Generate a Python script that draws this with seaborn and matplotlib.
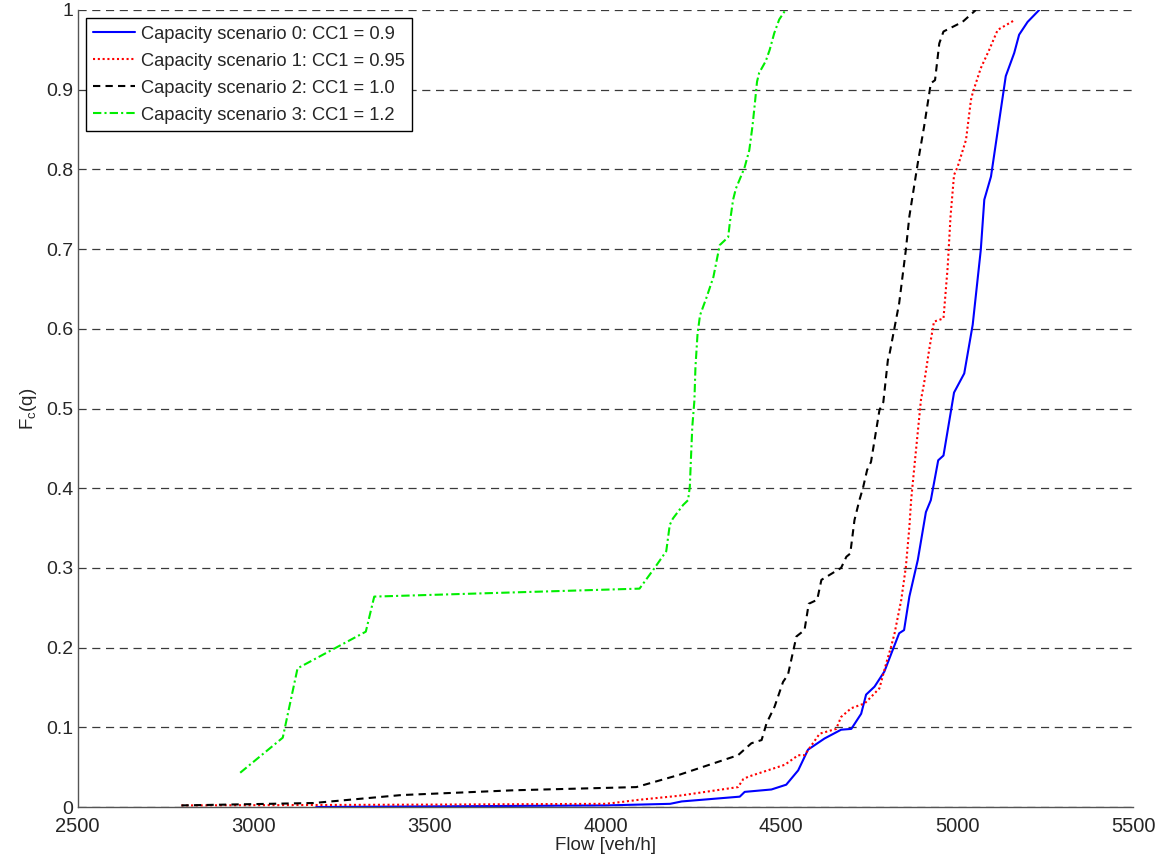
import numpy as np
import pandas as pd
import matplotlib
matplotlib.use("Agg")
import matplotlib.pyplot as plt
import seaborn as sns

# ---- data ----
labels = ["Capacity scenario 0: CC1 = 0.9",
          "Capacity scenario 1: CC1 = 0.95",
          "Capacity scenario 2: CC1 = 1.0",
          "Capacity scenario 3: CC1 = 1.2"]

s0_x = [3178, 4000, 4184, 4217, 4382, 4396, 4472, 4514, 4548, 4576, 4623, 4670, 4699, 4727,
        4741, 4765, 4793, 4835, 4849, 4864, 4888, 4911, 4925, 4946, 4961, 4991, 5020, 5044,
        5067, 5077, 5096, 5138, 5162, 5176, 5200, 5233]
s0_y = [0.0, 0.002, 0.004, 0.007, 0.013, 0.019, 0.022, 0.028, 0.046, 0.072, 0.086, 0.097, 0.098, 0.117,
        0.141, 0.151, 0.170, 0.218, 0.222, 0.264, 0.310, 0.370, 0.385, 0.435, 0.441, 0.520, 0.544, 0.605,
        0.699, 0.762, 0.791, 0.917, 0.946, 0.969, 0.985, 1.0]

s1_x = [2795, 3500, 4000, 4021, 4094, 4207, 4377, 4392, 4406, 4510, 4548, 4566, 4609, 4656, 4670,
        4699, 4737, 4755, 4779, 4798, 4812, 4822, 4841, 4854, 4864, 4869, 4880, 4897, 4906, 4920,
        4934, 4961, 4973, 4981, 4991, 5001, 5025, 5039, 5044, 5067, 5091, 5115, 5162]
s1_y = [0.002, 0.003, 0.004, 0.005, 0.009, 0.014, 0.025, 0.035, 0.038, 0.053, 0.065, 0.065, 0.092, 0.098, 0.113,
        0.124, 0.130, 0.138, 0.149, 0.180, 0.201, 0.218, 0.260, 0.301, 0.351, 0.385, 0.435, 0.511, 0.532, 0.573,
        0.609, 0.613, 0.678, 0.741, 0.793, 0.803, 0.837, 0.887, 0.896, 0.927, 0.950, 0.975, 0.987]

s2_x = [2795, 3170, 3420, 3740, 4088, 4207, 4377, 4415, 4444, 4458, 4481, 4505, 4519, 4543, 4566,
        4578, 4602, 4614, 4670, 4685, 4696, 4708, 4722, 4732, 4744, 4755, 4779, 4790, 4803, 4807,
        4835, 4854, 4864, 4888, 4906, 4925, 4937, 4949, 4961, 5015, 5053]
s2_y = [0.002, 0.005, 0.015, 0.021, 0.025, 0.040, 0.065, 0.080, 0.084, 0.105, 0.126, 0.157, 0.166, 0.214, 0.222,
        0.255, 0.260, 0.285, 0.300, 0.314, 0.318, 0.360, 0.385, 0.400, 0.423, 0.433, 0.498, 0.508, 0.561, 0.567,
        0.632, 0.699, 0.741, 0.808, 0.854, 0.908, 0.912, 0.958, 0.973, 0.985, 1.0]

s3_x = [2962, 3083, 3125, 3319, 3343, 4097, 4140, 4173, 4183, 4192, 4221, 4235, 4240, 4243, 4247,
        4253, 4256, 4262, 4269, 4288, 4307, 4325, 4349, 4354, 4363, 4371, 4387, 4396, 4409, 4418,
        4424, 4431, 4437, 4456, 4467, 4480, 4494, 4512]
s3_y = [0.043, 0.087, 0.174, 0.220, 0.264, 0.274, 0.300, 0.321, 0.354, 0.362, 0.379, 0.385, 0.402, 0.435, 0.477,
        0.510, 0.552, 0.594, 0.617, 0.640, 0.665, 0.705, 0.715, 0.734, 0.762, 0.776, 0.793, 0.803, 0.824, 0.854,
        0.879, 0.910, 0.921, 0.936, 0.950, 0.971, 0.988, 1.0]

xticks = [2500, 3000, 3500, 4000, 4500, 5000, 5500]
yticks = [0, 0.1, 0.2, 0.3, 0.4, 0.5, 0.6, 0.7, 0.8, 0.9, 1]
yticklabels = ["0", "0.1", "0.2", "0.3", "0.4", "0.5", "0.6", "0.7", "0.8", "0.9", "1"]

# ---- style ----
sns.set_style("white")
plt.rcParams['font.family'] = ['Liberation Sans', 'DejaVu Sans']
plt.rcParams['mathtext.default'] = 'regular'
FS_XTICK = 14.5
FS_YTICK = 14
FS_LAB = 13.5
FS_LEG = 13.2

fig = plt.figure(figsize=(11.73, 8.61), dpi=100)
ax = fig.add_axes([0.0662, 0.0627, 0.966 - 0.0662, 0.9884 - 0.0627])

series = [
    (s0_x, s0_y, "#0000ff", "-"),
    (s1_x, s1_y, "#ff0000", (0, (1, 1.3))),
    (s2_x, s2_y, "#000000", (0, (3.5, 2.5))),
    (s3_x, s3_y, "#00ee00", (0, (4, 1.5, 1, 1.5))),
]
for (xs, ys, col, ls), lab in zip(series, labels):
    df = pd.DataFrame({"Flow": xs, "F": ys})
    sns.lineplot(data=df, x="Flow", y="F", ax=ax, color=col, linestyle=ls,
                 linewidth=1.5, sort=False, estimator=None, label=lab)

ax.set_xlim(2500, 5500)
ax.set_ylim(0, 1)
ax.set_xticks(xticks)
ax.set_xticklabels([str(t) for t in xticks], fontsize=FS_XTICK)
ax.set_yticks(yticks)
ax.set_yticklabels(yticklabels, fontsize=FS_YTICK)
ax.tick_params(direction='in', length=7, width=0.8, color='black')
ax.tick_params(axis='x', pad=7)
ax.tick_params(axis='y', pad=3)

for y in yticks:
    ax.axhline(y, color='#3a3a3a', linestyle=(0, (6.5, 4.5)), linewidth=0.9, zorder=0)

for s in ['top', 'right']:
    ax.spines[s].set_visible(False)
for s in ['left', 'bottom']:
    ax.spines[s].set_color('#555555')
    ax.spines[s].set_linewidth(1.0)

ax.set_xlabel("Flow [veh/h]", fontsize=FS_LAB, labelpad=1)
ax.set_ylabel(r"F$_c$(q)", fontsize=FS_LAB, labelpad=5)

leg = ax.legend(loc='upper left', fontsize=FS_LEG, frameon=True, fancybox=False,
                borderaxespad=0.45, handlelength=2.3, handletextpad=0.3,
                labelspacing=0.55, borderpad=0.4)
leg.get_frame().set_edgecolor('black')
leg.get_frame().set_linewidth(1.0)
leg.get_frame().set_alpha(1)

fig.savefig("out.png", dpi=100)
